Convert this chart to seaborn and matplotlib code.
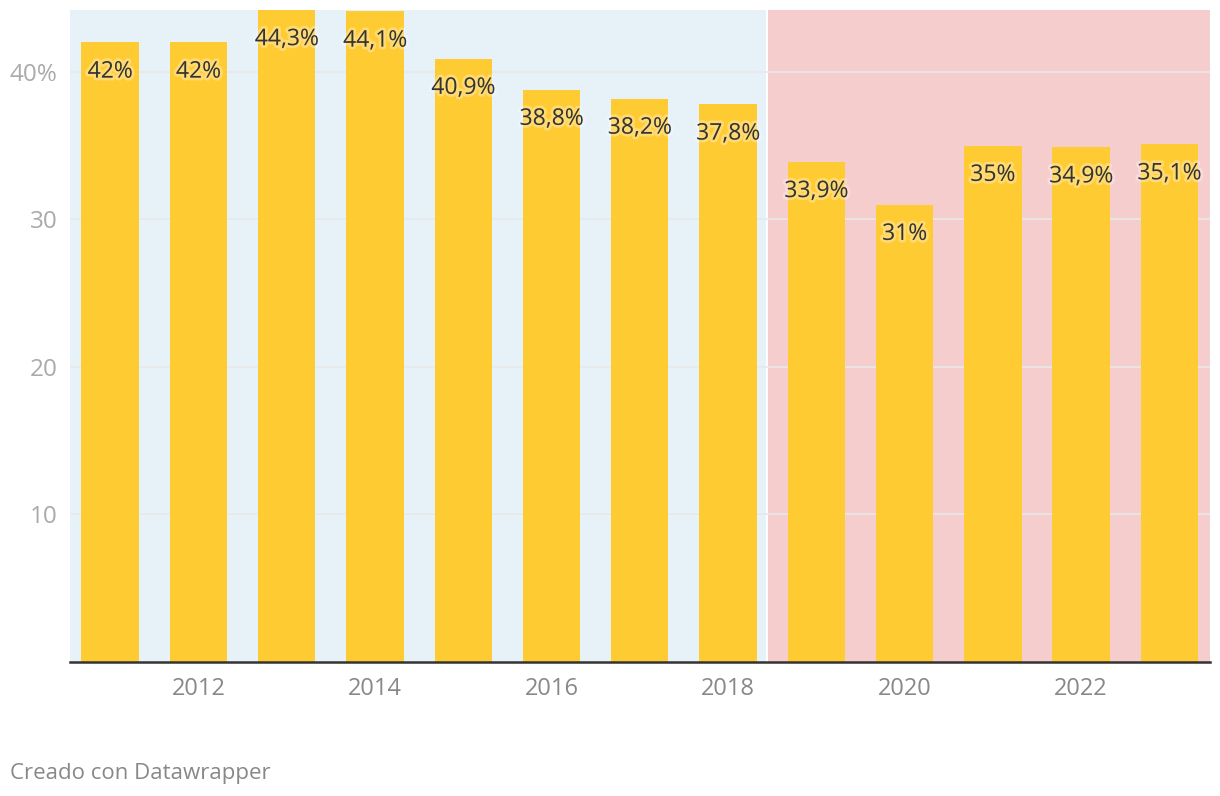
import numpy as np
import pandas as pd
import matplotlib
matplotlib.use('Agg')
import matplotlib.pyplot as plt
import matplotlib.patheffects as pe
import seaborn as sns

anios = [2011, 2012, 2013, 2014, 2015, 2016, 2017, 2018, 2019, 2020, 2021, 2022, 2023]
valores = [42, 42, 44.3, 44.1, 40.9, 38.8, 38.2, 37.8, 33.9, 31, 35, 34.9, 35.1]
etiquetas = ['42%', '42%', '44,3%', '44,1%', '40,9%', '38,8%', '38,2%', '37,8%',
             '33,9%', '31%', '35%', '34,9%', '35,1%']
yticks = [10, 20, 30, 40]
ytick_labels = ['10', '20', '30', '40%']

df = pd.DataFrame({'anio': [str(a) for a in anios], 'valor': valores})

sns.set_theme(style='white')
plt.rcParams['font.family'] = ['Open Sans', 'DejaVu Sans']

fig = plt.figure(figsize=(12.2, 7.96), dpi=100)
ax = fig.add_axes([70 / 1220, 1 - 662 / 796, 1140 / 1220, 652 / 796])

# fondos de periodo
ax.axvspan(-0.455, 7.43, color='#e6f1f8', zorder=0, lw=0)
ax.axvspan(7.455, 12.46, color='#f6cdcd', zorder=0, lw=0)

for y in yticks:
    ax.axhline(y, color='#e8e8e8', lw=1.2, zorder=1)

sns.barplot(data=df, x='anio', y='valor', color='#ffcb33', width=0.65,
            saturation=1, linewidth=0, ax=ax, zorder=2)

ax.set_xlim(-0.455, 12.46)
ax.set_ylim(0, 44.2)

for i, (v, t) in enumerate(zip(valores, etiquetas)):
    top = min(v, 44.2)
    ax.annotate(t, xy=(i, top), xytext=(0, -21), textcoords='offset points',
                ha='center', va='center', fontsize=16.5, color='#333333', zorder=3,
                path_effects=[pe.withStroke(linewidth=4, foreground='white', alpha=0.3)],
                annotation_clip=False)

ax.set_yticks(yticks)
ax.set_yticklabels(ytick_labels)
ax.set_xticks(range(1, len(anios), 2))
ax.set_xticklabels([str(anios[i]) for i in range(1, len(anios), 2)])
ax.tick_params(axis='y', length=0, labelsize=17.5, labelcolor='#aaaaaa', pad=9)
ax.tick_params(axis='x', length=0, labelsize=17, labelcolor='#888888', pad=11)
ax.set_xlabel('')
ax.set_ylabel('')

for s in ['top', 'right', 'left']:
    ax.spines[s].set_visible(False)
ax.spines['bottom'].set_color('#333333')
ax.spines['bottom'].set_linewidth(1.8)
ax.spines['bottom'].set_zorder(4)

fig.text(10 / 1220, 1 - 774 / 796, 'Creado con Datawrapper', ha='left', va='center',
         fontsize=16, color='#888888')

fig.savefig('out.png', dpi=100)
